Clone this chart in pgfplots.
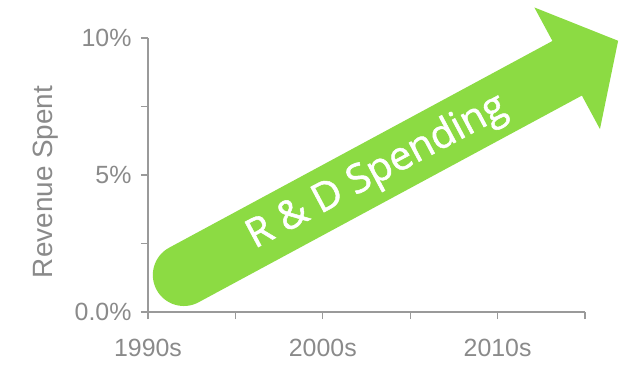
\documentclass[border=0pt]{standalone}
\usepackage{fontspec}
\setmainfont{Liberation Sans}
\newfontfamily\arrowfont{Open Sans}[FakeBold=1.3]
\usepackage{pgfplots}
\pgfplotsset{compat=1.18}
\usetikzlibrary{arrows.meta}
\definecolor{axisgray}{HTML}{9A9A9A}
\definecolor{labelgray}{HTML}{8A8A8A}
\definecolor{arrowgreen}{HTML}{8CDB43}
\begin{document}
\begin{tikzpicture}
\begin{axis}[
  scale only axis, width=437bp, height=274bp,
  xmin=0, xmax=5, ymin=0, ymax=10,
  axis x line=bottom, axis y line=left,
  axis line style={-, draw=axisgray, line width=1.2bp},
  xtick={0,1,2,3,4,5}, xticklabels={1990s,,2000s,,2010s,},
  ytick={0,5,10}, yticklabels={0.0\%,5\%,10\%},
  minor ytick={2.5,7.5},
  tick align=outside, major tick length=7bp, minor tick length=7bp,
  tick style={draw=axisgray, line width=1.2bp},
  ticklabel style={font=\fontsize{25}{27}\selectfont, text=labelgray},
  xticklabel style={yshift=-17bp},
  yticklabel style={xshift=-6bp},
  /pgf/number format/assume math mode=true,
  ylabel={Revenue Spent},
  ylabel style={font=\fontsize{28}{30}\selectfont, text=labelgray, at={(axis description cs:-0.235,0.475)}, anchor=center, rotate=0},
  clip=false,
]
\addplot[draw=arrowgreen, line width=62bp, line cap=round, -{Triangle[length=58bp, width=135bp]}] coordinates {(0.41,1.35) (5.38,9.9)};
\node[rotate=28, text=white, font=\arrowfont\fontsize{40}{42}\selectfont] at (axis cs:2.62,5.1) {R \& D Spending};
\end{axis}
\pgfresetboundingbox
\path[use as bounding box] ([xshift=-148bp,yshift=-54bp]current axis.south west) rectangle ([xshift=35bp,yshift=38bp]current axis.north east);
\end{tikzpicture}
\end{document}
